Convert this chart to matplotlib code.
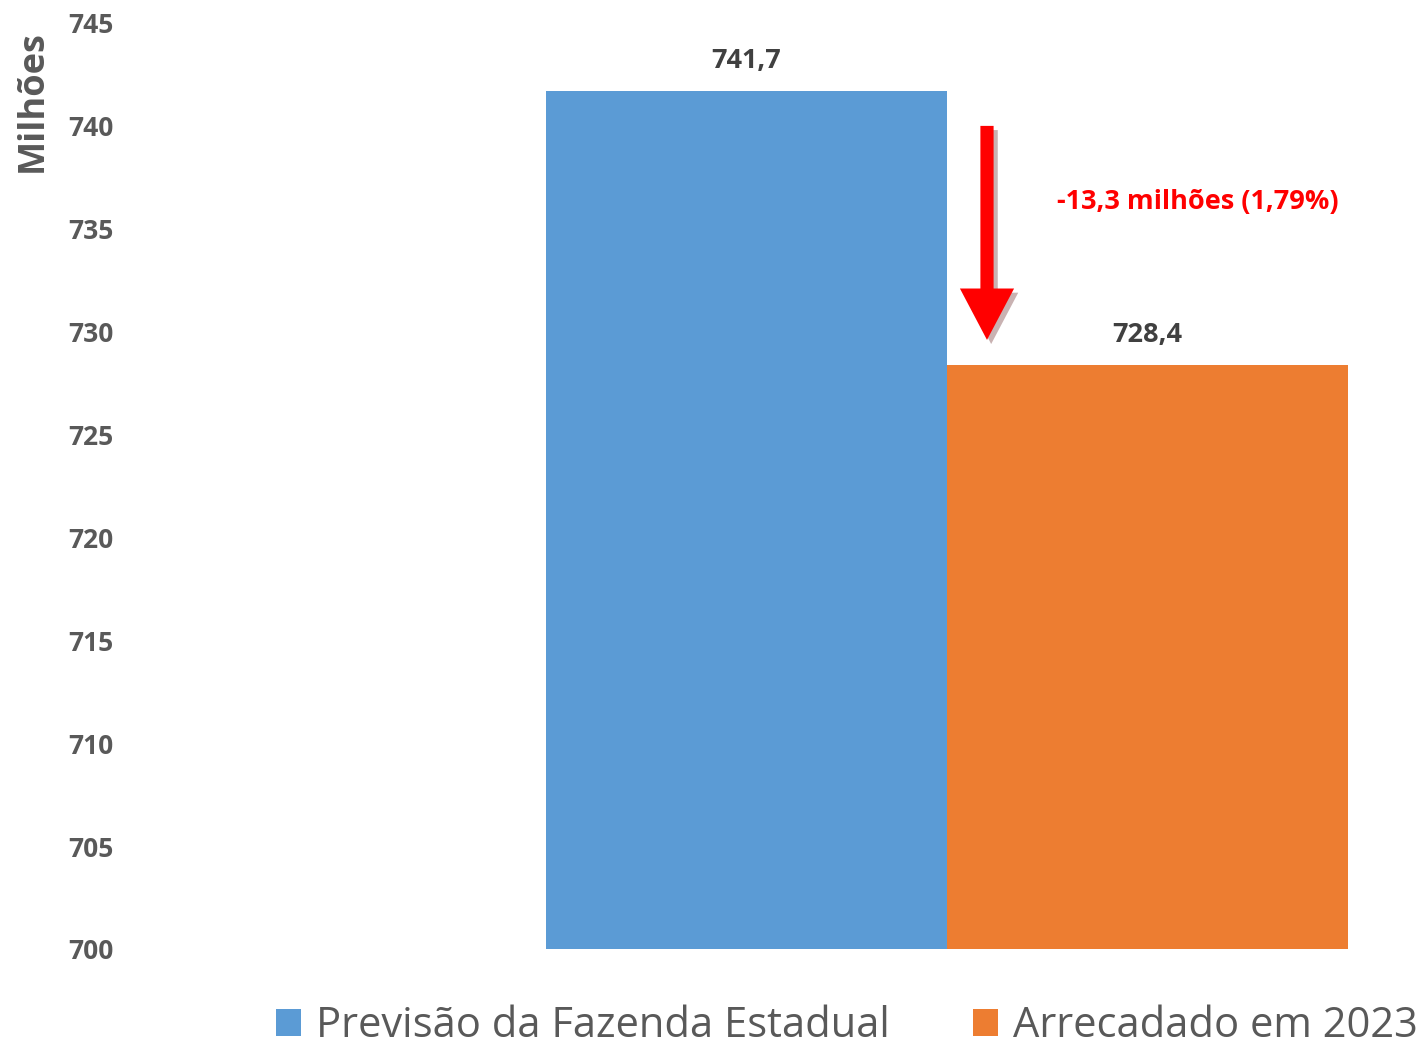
import matplotlib.pyplot as plt
import matplotlib.patheffects as pe
from matplotlib.patches import Patch

# data
series = ["Previsão da Fazenda Estadual", "Arrecadado em 2023"]
values = [741.7, 728.4]
labels = ["741,7", "728,4"]
colors = ["#5B9BD5", "#ED7D31"]
yticks = [700, 705, 710, 715, 720, 725, 730, 735, 740, 745]
diff_text = "-13,3 milhões (1,79%)"

GRAY = "#595959"
FONT = ["Open Sans", "DejaVu Sans"]

fig = plt.figure(figsize=(14.26, 10.46), dpi=100)
fig.patch.set_facecolor("white")
ax = fig.add_axes([125 / 1426, 1 - 949 / 1046, (1420 - 125) / 1426, (949 - 23) / 1046])

xs = [0, 1]
ax.bar(xs, [v - 700 for v in values], bottom=700, width=1.0, color=colors, zorder=2)
ax.set_xlim(-1.55, 1.68)
ax.set_ylim(700, 745)
ax.set_yticks(yticks)
ax.set_yticklabels([str(t) for t in yticks], fontsize=19, fontweight="bold",
                   color=GRAY, family=FONT)
ax.tick_params(axis="y", length=0, pad=8)
ax.set_xticks([])
for s in ax.spines.values():
    s.set_visible(False)

ax.set_ylabel("Milhões", fontsize=26, fontweight="bold", color=GRAY, family=FONT)
ax.yaxis.set_label_coords(-0.057, 0.916)

# value labels
for x, v, lab in zip(xs, values, labels):
    ax.text(x, v + 0.8, lab, ha="center", va="bottom", fontsize=19.5,
            fontweight="bold", color="#404040", family=FONT)

# red arrow
ax.annotate("", xy=(0.6, 729.6), xytext=(0.6, 740.0),
            arrowprops=dict(facecolor="#FF0000", edgecolor="none", width=9.5,
                            headwidth=39, headlength=37, shrink=0,
                            path_effects=[pe.SimplePatchShadow(offset=(3, -3), alpha=0.3),
                                          pe.Normal()]),
            zorder=4)
ax.text(1.125, 736.3, diff_text, ha="center", va="center", fontsize=19.5,
        fontweight="bold", color="#FF0000", family=FONT)

handles = [Patch(facecolor=c, edgecolor="none") for c in colors]
fig.legend(handles, series, loc="lower center", bbox_to_anchor=(847 / 1426, -0.037),
           ncol=2, frameon=False, handlelength=0.6, handleheight=0.6,
           handletextpad=0.35, columnspacing=2.0,
           prop=dict(family=FONT, size=30),
           labelcolor=GRAY)

fig.savefig("out.png", dpi=100, facecolor="white")
